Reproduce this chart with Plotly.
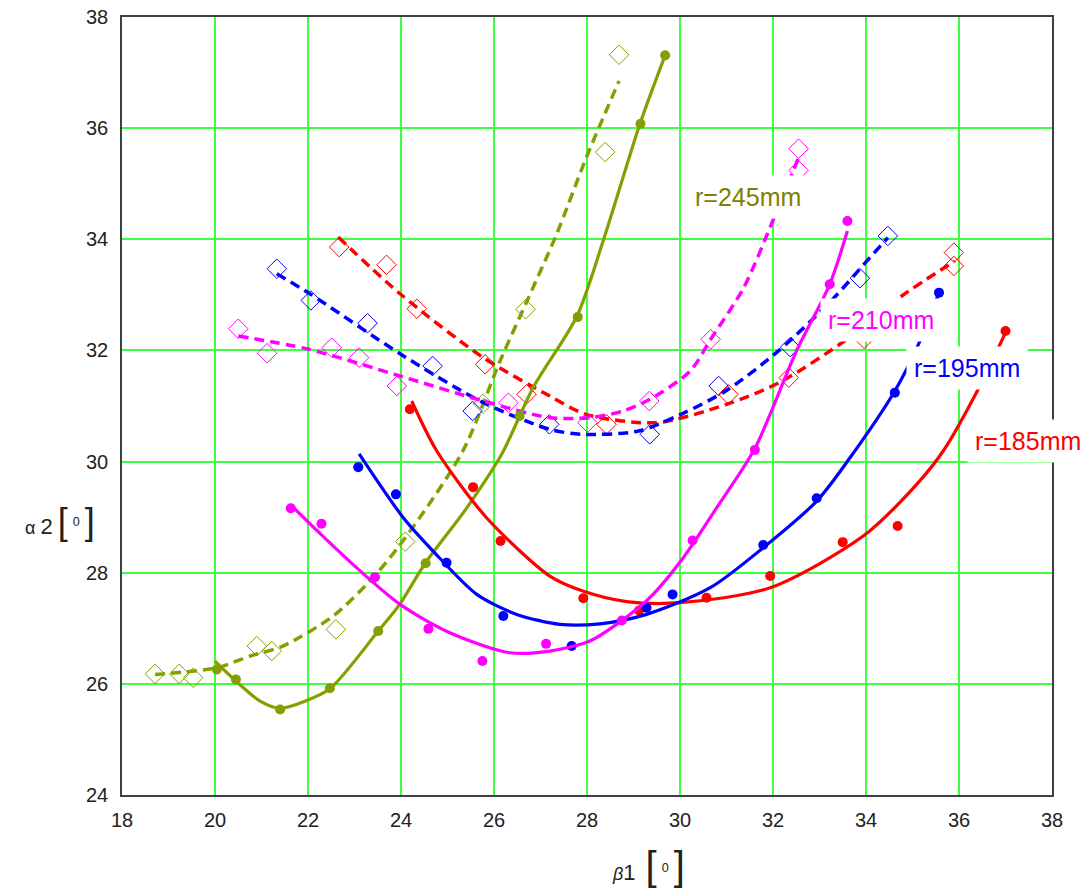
import plotly.graph_objects as go

# ---------------- data ----------------
# r = 245 mm (olive)
olive_pts_x = [20.04, 20.45, 21.40, 22.47, 23.51, 24.53, 26.55, 27.80, 29.15, 29.68]
olive_pts_y = [26.26, 26.08, 25.54, 25.92, 26.95, 28.17, 30.82, 32.60, 36.08, 37.31]
olive_fit_x = [20.00, 20.45, 20.97, 21.40, 21.94, 22.47, 23.51, 23.98, 24.52, 25.40, 26.17, 26.84, 27.78, 28.34, 29.14, 29.68]
olive_fit_y = [26.41, 26.05, 25.69, 25.56, 25.69, 25.91, 26.95, 27.44, 28.17, 29.15, 30.14, 31.33, 32.61, 33.95, 36.08, 37.31]
olive_dia_x = [18.71, 19.23, 19.53, 20.90, 21.22, 22.60, 24.09, 25.76, 26.68, 28.39, 28.69]
olive_dia_y = [26.18, 26.18, 26.11, 26.68, 26.59, 26.98, 28.56, 31.04, 32.74, 35.57, 37.32]
olive_dfit_x = [18.71, 20.04, 20.75, 21.46, 22.54, 23.33, 24.04, 25.33, 26.13, 26.71, 27.35, 27.99, 28.69]
olive_dfit_y = [26.17, 26.29, 26.50, 26.68, 27.22, 27.85, 28.57, 30.19, 31.81, 32.89, 34.10, 35.48, 36.85]

# r = 185 mm (red)
red_pts_x = [24.19, 25.55, 26.14, 27.92, 29.12, 30.57, 31.94, 33.50, 34.68, 37.00]
red_pts_y = [30.94, 29.54, 28.57, 27.54, 27.32, 27.55, 27.94, 28.55, 28.84, 32.35]
red_fit_x = [24.23, 24.77, 25.84, 27.20, 27.91, 28.85, 30.00, 31.94, 33.94, 35.09, 35.66, 36.43, 37.00]
red_fit_y = [31.09, 30.19, 28.99, 27.94, 27.67, 27.48, 27.46, 27.73, 28.66, 29.59, 30.19, 31.33, 32.32]
red_dia_x = [22.67, 23.69, 24.34, 25.81, 26.70, 28.42, 31.04, 32.34, 33.96, 35.89, 35.89]
red_dia_y = [33.86, 33.54, 32.75, 31.75, 31.21, 30.67, 31.21, 31.51, 32.21, 33.76, 33.52]
red_dfit_x = [22.65, 23.98, 25.77, 27.20, 27.98, 29.49, 31.00, 32.13, 33.64, 34.77, 35.91]
red_dfit_y = [34.04, 33.02, 31.87, 31.18, 30.85, 30.70, 31.03, 31.42, 32.23, 32.98, 33.61]

# r = 195 mm (blue)
blue_pts_x = [23.08, 23.89, 24.98, 26.20, 27.67, 29.28, 29.84, 31.79, 32.94, 34.62, 35.57]
blue_pts_y = [29.90, 29.41, 28.18, 27.22, 26.68, 27.37, 27.61, 28.50, 29.34, 31.24, 33.04]
blue_fit_x = [23.10, 24.05, 24.69, 25.63, 26.49, 27.42, 28.28, 29.28, 30.65, 31.79, 32.94, 33.64, 34.62, 35.15, 35.57]
blue_fit_y = [30.14, 28.99, 28.39, 27.61, 27.25, 27.07, 27.08, 27.25, 27.73, 28.45, 29.29, 30.05, 31.27, 32.15, 33.04]
blue_dia_x = [21.33, 22.06, 23.28, 24.68, 25.54, 27.19, 29.35, 30.83, 32.37, 33.87, 34.47]
blue_dia_y = [33.47, 32.90, 32.49, 31.72, 30.91, 30.67, 30.49, 31.36, 32.06, 33.30, 34.06]
blue_dfit_x = [21.33, 22.04, 23.98, 25.77, 27.20, 27.90, 29.11, 30.02, 31.00, 32.13, 33.26, 34.02, 34.47]
blue_dfit_y = [33.38, 33.02, 31.94, 31.06, 30.58, 30.49, 30.55, 30.85, 31.28, 32.00, 32.90, 33.61, 34.03]

# r = 210 mm (magenta)
mag_pts_x = [21.63, 22.29, 23.44, 24.59, 25.75, 27.12, 28.75, 30.27, 31.61, 33.22, 33.60]
mag_pts_y = [29.16, 28.88, 27.92, 26.99, 26.41, 26.72, 27.14, 28.58, 30.21, 33.19, 34.33]
mag_fit_x = [21.63, 22.19, 22.90, 23.98, 25.05, 26.34, 27.20, 28.06, 28.75, 29.35, 30.07, 30.79, 31.60, 32.51, 33.22, 33.60]
mag_fit_y = [29.22, 28.76, 28.20, 27.43, 26.92, 26.56, 26.59, 26.77, 27.14, 27.55, 28.27, 29.17, 30.22, 32.00, 33.19, 34.15]
mag_dia_x = [20.50, 21.12, 22.51, 23.10, 23.91, 26.31, 28.01, 29.34, 30.66, 32.55, 32.55]
mag_dia_y = [32.39, 31.95, 32.05, 31.87, 31.36, 31.06, 30.70, 31.09, 32.20, 35.24, 35.63]
mag_dfit_x = [20.50, 21.97, 23.98, 25.77, 27.20, 28.06, 28.78, 29.35, 30.22, 30.66, 31.37, 32.01, 32.54]
mag_dfit_y = [32.26, 32.03, 31.54, 31.09, 30.79, 30.79, 30.91, 31.12, 31.63, 32.20, 33.13, 34.36, 35.45]

x_ticks = [18, 20, 22, 24, 26, 28, 30, 32, 34, 36, 38]
y_ticks = [24, 26, 28, 30, 32, 34, 36, 38]

labels = ["r=245mm", "r=210mm", "r=195mm", "r=185mm"]
label_x = [31.46, 34.32, 36.18, 37.48]
label_y = [34.77, 32.54, 31.68, 30.37]

# ---------------- styling ----------------
OLIVE = "#84a000"
OLIVE_TXT = "#808000"
RED = "#ff0000"
BLUE = "#0000ff"
MAG = "#ff00ff"
GRID = "#40ff40"
DASH = "10px,6px"
FONT = "Liberation Sans, Arial, sans-serif"

fig = go.Figure()

series = [
    (olive_fit_x, olive_fit_y, olive_pts_x, olive_pts_y, olive_dfit_x, olive_dfit_y, olive_dia_x, olive_dia_y, OLIVE),
    (red_fit_x, red_fit_y, red_pts_x, red_pts_y, red_dfit_x, red_dfit_y, red_dia_x, red_dia_y, RED),
    (blue_fit_x, blue_fit_y, blue_pts_x, blue_pts_y, blue_dfit_x, blue_dfit_y, blue_dia_x, blue_dia_y, BLUE),
    (mag_fit_x, mag_fit_y, mag_pts_x, mag_pts_y, mag_dfit_x, mag_dfit_y, mag_dia_x, mag_dia_y, MAG),
]

for fx, fy, px, py, dfx, dfy, dx, dy, col in series:
    fig.add_trace(go.Scatter(x=dfx, y=dfy, mode="lines",
                             line=dict(color=col, width=3.5, dash=DASH, shape="spline", smoothing=0.8),
                             hoverinfo="skip"))
    fig.add_trace(go.Scatter(x=dx, y=dy, mode="markers",
                             marker=dict(symbol="diamond-open", size=15, color=col, line=dict(width=1, color=col)),
                             hoverinfo="skip"))
for fx, fy, px, py, dfx, dfy, dx, dy, col in series:
    fig.add_trace(go.Scatter(x=fx, y=fy, mode="lines",
                             line=dict(color=col, width=3.2, shape="spline", smoothing=0.8),
                             hoverinfo="skip"))
    fig.add_trace(go.Scatter(x=px, y=py, mode="markers",
                             marker=dict(symbol="circle", size=10, color=col),
                             hoverinfo="skip"))

label_colors = [OLIVE_TXT, MAG, BLUE, RED]
for t, lx, ly, c in zip(labels, label_x, label_y, label_colors):
    fig.add_annotation(x=lx, y=ly, xref="x", yref="y", text=t, showarrow=False,
                       xanchor="center", yanchor="middle",
                       font=dict(family=FONT, size=25, color=c),
                       bgcolor="white", borderpad=7)

# axis titles
fig.add_annotation(xref="paper", yref="paper", x=0.5656, y=-0.0913, showarrow=False,
                   xanchor="center", yanchor="middle",
                   text='<i>β</i><span style="font-size:22px">1</span>  '
                        '<span style="font-size:40px">[</span> <sup>0</sup> '
                        '<span style="font-size:40px">]</span>',
                   font=dict(family=FONT, size=18, color="#222"))
fig.add_annotation(xref="paper", yref="paper", x=-0.0667, y=0.351, showarrow=False,
                   xanchor="center", yanchor="middle",
                   text='α <span style="font-size:22px">2</span> '
                        '<span style="font-size:36px">[</span> <sup>0</sup> '
                        '<span style="font-size:36px">]</span>',
                   font=dict(family=FONT, size=18, color="#222"))

axis_common = dict(showgrid=True, gridcolor=GRID, gridwidth=2, zeroline=False,
                   showline=True, mirror=True, linecolor="#404040", linewidth=1.5,
                   automargin=False,
                   ticks="", tickfont=dict(family=FONT, size=20, color="#222"))

fig.update_xaxes(range=[18, 38], tickvals=x_ticks, ticktext=[str(v) for v in x_ticks],
                 ticklabelstandoff=6, **axis_common)
fig.update_yaxes(range=[24, 38], tickvals=y_ticks, ticktext=[str(v) for v in y_ticks],
                 ticklabelstandoff=8, **axis_common)

fig.update_layout(width=1092, height=894, showlegend=False,
                  margin=dict(l=122, r=40, t=17, b=99, autoexpand=False),
                  plot_bgcolor="white", paper_bgcolor="white", hovermode=False)

fig.write_html("out.html")
